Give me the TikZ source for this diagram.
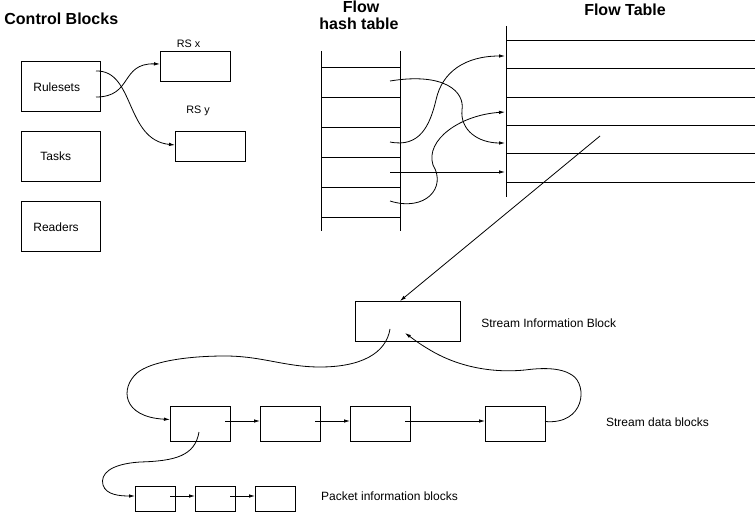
\documentclass[tikz,border=0pt]{standalone}
\usepackage{fontspec}
\setmainfont{Liberation Sans}
\usetikzlibrary{arrows.meta}
\begin{document}
\begin{tikzpicture}[x=1pt,y=-1pt,line width=0.8pt,
  box/.style={draw,anchor=north west,inner sep=0pt,outer sep=0pt},
  lbl/.style={anchor=base west,inner sep=0pt,font=\fontsize{12}{14}\selectfont},
  rslbl/.style={anchor=base west,inner sep=0pt,font=\fontsize{10.8}{12}\selectfont},
  ttl/.style={anchor=base,inner sep=0pt,font=\fontsize{16}{19}\selectfont\bfseries},
  arr/.style={-{Latex[length=6pt,width=3.5pt]}},
  tline/.style={line width=0.8pt}]
\useasboundingbox (0,0) rectangle (755,513);

% titles
\node[ttl,anchor=base west] (tcb) at (4,25) {Control Blocks};
\node[ttl] (tflow) at (361,12.5) {Flow};
\node[ttl] (thash) at (359,30) {hash table};
\node[ttl] (tft) at (625,16) {Flow Table};

% control blocks
\node[box,minimum width=79pt,minimum height=50pt] (rules) at (21,61) {};
\node[box,minimum width=79pt,minimum height=50pt] (tasks) at (21,131) {};
\node[box,minimum width=79pt,minimum height=50pt] (readers) at (21,201) {};
\node[lbl] (lrules) at (33,91.7) {Rulesets};
\node[lbl] (ltasks) at (40,161) {Tasks};
\node[lbl] (lreaders) at (33,231.7) {Readers};
\node[box,minimum width=70pt,minimum height=30pt] (rsx) at (160,51) {};
\node[box,minimum width=70pt,minimum height=30pt] (rsy) at (175,131) {};
\node[rslbl] (lrsx) at (176.5,47.3) {RS x};
\node[rslbl] (lrsy) at (186,113.3) {RS y};

\coordinate (r1) at (96,71);
\coordinate (r2) at (96,97);
\draw[arr] (r1) .. controls (135,70) and (125,140) .. ([yshift=1pt]rsy.west);
\draw[arr] (r2) .. controls (133,97) and (120,63) .. ([yshift=2pt]rsx.west);

% flow hash table
\draw[tline] (321,51) -- (321,231);
\draw[tline] (400,51) -- (400,231);
\foreach \yy in {67,97,127,157,187,217} \draw[tline] (321,\yy) -- (400,\yy);

% flow table
\draw[tline] (506,26) -- (506,197);
\foreach \yy in {40,68,97,125,153,182} \draw[tline] (506,\yy) -- (755,\yy);

\coordinate (h1) at (390,81);
\coordinate (h3) at (390,142);
\coordinate (h4) at (390,172);
\coordinate (h5) at (390,201);
\coordinate (fA) at (505,143);
\coordinate (fB) at (505,56);
\coordinate (fC) at (505,172);
\coordinate (fD) at (505,112);
\draw[arr] (h1) .. controls (445,72) and (465,92) .. (462,110) .. controls (460,130) and (478,143) .. (fA);
\draw[arr] (h3) .. controls (420,148) and (430,125) .. (436,100) .. controls (442,72) and (465,56) .. (fB);
\draw[arr] (h4) -- (fC);
\draw[arr] (h5) .. controls (425,212) and (447,188) .. (433,165) .. controls (425,140) and (460,115) .. (fD);

% stream information block
\node[box,minimum width=105pt,minimum height=40pt] (sib) at (355,301) {};
\node[lbl] (lsib) at (481,327.3) {Stream Information Block};
\coordinate (diag) at (600,136);
\draw[arr] (diag) -- ([xshift=-7.5pt]sib.north);

% stream data blocks
\node[box,minimum width=60pt,minimum height=35pt] (d1) at (170,406) {};
\node[box,minimum width=60pt,minimum height=35pt] (d2) at (260,406) {};
\node[box,minimum width=60pt,minimum height=35pt] (d3) at (350,406) {};
\node[box,minimum width=60pt,minimum height=35pt] (d4) at (485,406) {};
\node[lbl] (ldata) at (605.7,426) {Stream data blocks};
\draw[arr] ([xshift=-5pt,yshift=2.5pt]d1.east) -- ([yshift=2.5pt]d2.west);
\draw[arr] ([xshift=-5pt,yshift=2.5pt]d2.east) -- ([yshift=2.5pt]d3.west);
\draw[arr] ([xshift=-5pt,yshift=2.5pt]d3.east) -- ([yshift=2.5pt]d4.west);

\coordinate (s1) at (390,329);
\coordinate (s2) at (405,333);
\draw[arr] (s1) .. controls (386,354) and (360,367) .. (320,367)
  .. controls (285,367) and (262,356) .. (225,356)
  .. controls (185,356) and (150,362) .. (137,373)
  .. controls (120,388) and (122,417) .. ([yshift=4pt]d1.west);
\draw[arr] ([yshift=2pt]d4.east) .. controls (585,425) and (588,385) .. (572,375)
  .. controls (560,367) and (540,368) .. (525,370)
  .. controls (495,373) and (460,368) .. (430,350)
  .. controls (418,343) and (412,338) .. (s2);

% packet information blocks
\node[box,minimum width=40pt,minimum height=25pt] (p1) at (135,486) {};
\node[box,minimum width=40pt,minimum height=25pt] (p2) at (195,486) {};
\node[box,minimum width=40pt,minimum height=25pt] (p3) at (255,486) {};
\node[lbl] (lpkt) at (320.7,500.7) {Packet information blocks};
\draw[arr] ([xshift=-5pt,yshift=2.5pt]p1.east) -- ([yshift=2.5pt]p2.west);
\draw[arr] ([xshift=-5pt,yshift=2.5pt]p2.east) -- ([yshift=2.5pt]p3.west);

\coordinate (d1in) at (199,432);
\draw[arr] (d1in) .. controls (195,456) and (175,461) .. (140,462)
  .. controls (110,464) and (100,474) .. (103,485)
  .. controls (106,495) and (120,496) .. ([yshift=2.5pt]p1.west);
\end{tikzpicture}
\end{document}
